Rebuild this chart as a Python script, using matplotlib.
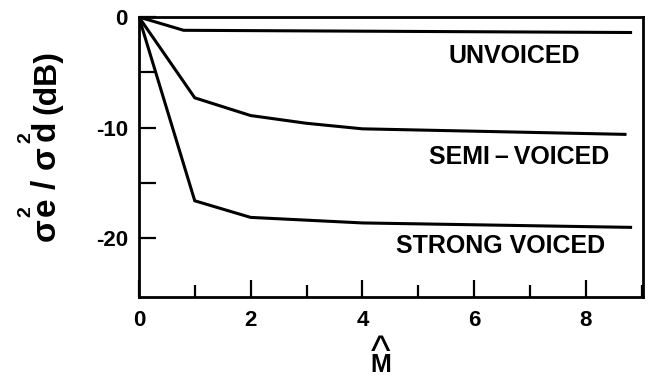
import numpy as np
import matplotlib
matplotlib.use("Agg")
import matplotlib.pyplot as plt
from matplotlib.ticker import MultipleLocator, FixedLocator

plt.rcParams['font.family'] = ['Liberation Sans', 'DejaVu Sans']
plt.rcParams['font.weight'] = 'bold'
plt.rcParams['axes.unicode_minus'] = False

W, H = 652, 378

# curves (x = M-hat, y = dB)
unvoicedX = [0, 0.8, 8.8]
unvoicedY = [0, -1.2, -1.4]
semiX = [0, 1, 2, 3, 4, 8.7]
semiY = [0, -7.3, -8.9, -9.6, -10.1, -10.6]
strongX = [0, 1, 2, 4, 8.8]
strongY = [0, -16.6, -18.1, -18.6, -19.0]

labels = ["UNVOICED", "SEMI\u2009\u2013\u2009VOICED", "STRONG VOICED"]
labelX = [6.71, 6.8, 6.48]
labelY = [-3.5, -12.6, -20.7]

fig = plt.figure(figsize=(W / 100, H / 100), dpi=100)
ax = fig.add_axes([0.213, 0.214, 0.773, 0.741])

for x, y in [(unvoicedX, unvoicedY), (semiX, semiY), (strongX, strongY)]:
    ax.plot(x, y, color='black', lw=2.2, solid_joinstyle='miter')

for text, x, y in zip(labels, labelX, labelY):
    ax.text(x, y, text, ha='center', va='center', fontsize=18,
            fontweight='bold')

ax.set_xlim(0, 9.02)
ax.set_ylim(-25.3, 0)
ax.xaxis.set_major_locator(MultipleLocator(2))
ax.xaxis.set_minor_locator(MultipleLocator(1))
ax.yaxis.set_major_locator(FixedLocator([0, -10, -20]))
ax.yaxis.set_minor_locator(FixedLocator([-5, -15]))

ax.tick_params(which='both', direction='in', width=1.6, labelsize=16)
ax.tick_params(axis='y', which='both', length=12, pad=8)
ax.tick_params(axis='x', which='major', length=12, pad=9)
ax.tick_params(axis='x', which='minor', length=9)
for lab in ax.get_xticklabels() + ax.get_yticklabels():
    lab.set_fontweight('bold')

for s in ax.spines.values():
    s.set_linewidth(2)


# labels placed in pixel positions, rotated for the y axis
def label(s, px, py, size=24, rot=0, weight='bold'):
    fig.text(px / W, 1 - py / H, s, rotation=rot, rotation_mode='anchor',
             ha='center', va='baseline', fontsize=size, fontweight=weight)


# x label: M with a hat
label("M", 381, 372, 18)
label("^", 381, 365, 30, weight='normal')

# y label: sigma, raised 2, e on the same baseline
label("\u03c3", 55, 230, rot=90)
label("2", 30, 212, 14, rot=90)
label("e", 55, 207, rot=90)
label("/", 55, 184, rot=90)
label("\u03c3", 55, 158, rot=90)
label("2", 30, 138, 14, rot=90)
label("d", 55, 131, rot=90)
label("(dB)", 55, 82, 23, rot=90)

fig.savefig("out.png", dpi=100)
